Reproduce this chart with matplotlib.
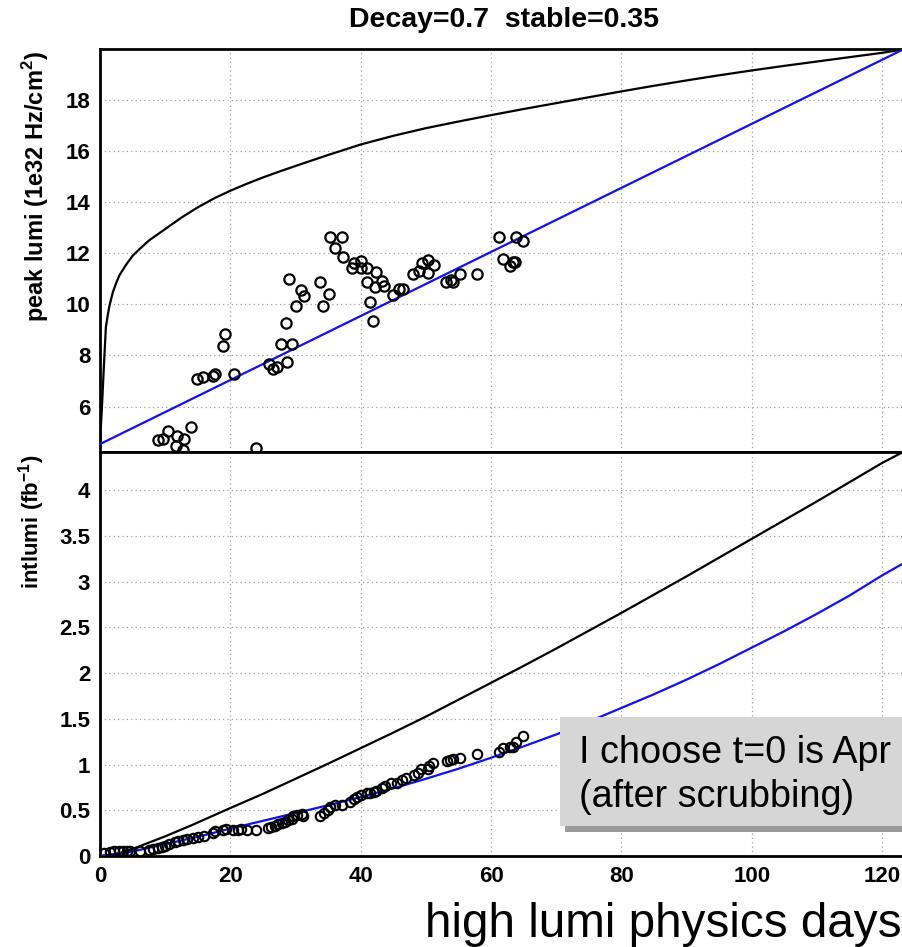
import matplotlib
matplotlib.use("Agg")
import matplotlib.pyplot as plt
from matplotlib.patches import Rectangle

plt.rcParams['font.family'] = ['Liberation Sans', 'DejaVu Sans']
plt.rcParams['mathtext.fontset'] = 'custom'
plt.rcParams['mathtext.bf'] = 'Liberation Sans:bold'
plt.rcParams['mathtext.rm'] = 'Liberation Sans:bold'

# top panel: peak lumi
peak_days = [8.95, 9.7, 10.5, 11.8, 11.7, 12.9, 12.7, 13.9, 24.0,
             14.9, 15.85, 17.3, 17.6, 18.8, 19.2, 20.6,
             25.9, 26.6, 27.1, 28.7, 27.8, 29.4, 28.5, 29.0, 30.0, 30.9, 31.3,
             33.8, 34.2, 35.1, 35.3, 36.0, 37.2, 37.3, 38.7, 39.0, 40.0, 40.1,
             40.9, 41.0, 41.5, 41.9, 42.2, 42.3, 43.2, 43.6, 44.9, 45.9, 46.5,
             48.0, 48.9, 49.4, 50.4, 50.4, 51.2, 53.1, 53.9, 54.2, 55.2, 57.8,
             61.2, 61.8, 62.9, 63.3, 63.6, 63.9, 64.9]
peak_lumi = [4.68, 4.72, 5.06, 4.85, 4.46, 4.72, 4.28, 5.21, 4.36,
             7.06, 7.17, 7.21, 7.28, 8.38, 8.85, 7.29,
             7.66, 7.46, 7.54, 7.76, 8.46, 8.46, 9.29, 11.0, 9.94, 10.57, 10.34,
             10.89, 9.94, 10.42, 12.64, 12.21, 12.62, 11.87, 11.42, 11.63, 11.42, 11.71,
             11.43, 10.88, 10.10, 9.33, 10.69, 11.28, 10.90, 10.72, 10.37, 10.61, 10.60,
             11.19, 11.30, 11.61, 11.74, 11.23, 11.54, 10.89, 10.96, 10.89, 11.19, 11.19,
             12.63, 11.78, 11.52, 11.67, 11.67, 12.63, 12.49]

model_days = [0, 0.3, 0.6, 0.9, 1.2, 1.5, 2, 2.5, 3, 4, 5, 6, 7.5, 10, 12.5, 15,
              17.5, 20, 22.5, 25, 27.5, 30, 35, 40, 45, 50, 55, 60, 65, 70, 75,
              80, 85, 90, 95, 100, 105, 110, 115, 120, 123.2]
model_peak = [4.53, 6.0, 7.6, 9.1, 9.6, 10.0, 10.5, 10.85, 11.15, 11.55, 11.9,
              12.15, 12.5, 12.95, 13.4, 13.8, 14.15, 14.45, 14.72, 14.97, 15.2,
              15.42, 15.85, 16.26, 16.6, 16.9, 17.16, 17.41, 17.65, 17.88,
              18.11, 18.34, 18.56, 18.77, 18.97, 19.16, 19.34, 19.51, 19.68,
              19.85, 19.98]
ramp_days = [0, 123.2]
ramp_peak = [4.53, 19.98]

# bottom panel: integrated lumi
int_days = [0.6, 1.5, 2.2, 2.9, 3.5, 4.1, 4.6, 6.1, 7.5, 8.2, 8.9, 9.5, 10.0,
            10.6, 11.5, 12.0, 12.8, 13.4, 14.2, 15.1, 15.9, 17.3, 17.6, 18.9,
            19.3, 20.4, 21.2, 21.7, 22.5, 24.0, 25.8, 26.3, 26.8, 27.3, 27.9,
            28.4, 28.9, 29.4, 29.6, 30.2, 31.0, 31.2, 33.7, 34.3, 35.0, 35.3,
            36.0, 37.1, 38.3, 38.9, 39.4, 40.1, 40.9, 41.4, 42.0, 42.4, 43.2,
            43.7, 44.7, 45.5, 46.3, 47.0, 48.1, 48.8, 49.3, 50.4, 50.5, 51.1,
            53.2, 53.7, 54.2, 55.2, 57.9, 61.2, 61.9, 62.9, 63.4, 63.9, 64.9]
int_lumi = [0.036, 0.045, 0.05, 0.05, 0.05, 0.05, 0.05, 0.06, 0.068, 0.075,
            0.085, 0.10, 0.11, 0.13, 0.155, 0.165, 0.175, 0.185, 0.195, 0.21,
            0.222, 0.248, 0.277, 0.285, 0.30, 0.285, 0.285, 0.292, 0.28, 0.285,
            0.303, 0.321, 0.328, 0.35, 0.365, 0.376, 0.394, 0.41, 0.438, 0.449,
            0.46, 0.438, 0.438, 0.467, 0.50, 0.54, 0.558, 0.558, 0.595, 0.62,
            0.65, 0.668, 0.686, 0.686, 0.704, 0.715, 0.741, 0.766, 0.796, 0.803,
            0.832, 0.851, 0.887, 0.912, 0.95, 0.95, 0.98, 1.02, 1.04, 1.05,
            1.06, 1.07, 1.12, 1.14, 1.18, 1.19, 1.19, 1.25, 1.31]

model_int_days = [0, 2, 4, 6, 8, 10, 14, 20, 25, 30, 35, 40, 45, 50, 55, 60, 65,
                  70, 75, 80, 85, 90, 95, 100, 105, 110, 115, 120, 123.2]
model_int = [0, 0.015, 0.05, 0.105, 0.16, 0.215, 0.335, 0.525, 0.68, 0.845, 1.01,
             1.18, 1.35, 1.525, 1.71, 1.895, 2.08, 2.27, 2.465, 2.66, 2.86, 3.06,
             3.265, 3.47, 3.675, 3.88, 4.09, 4.30, 4.42]
ramp_int_days = [0, 5, 10, 15, 20, 25, 30, 35, 40, 45, 50, 55, 60, 65, 70, 75,
                 80, 85, 90, 95, 100, 105, 110, 115, 120, 123.2]
ramp_int = [0, 0.05, 0.13, 0.21, 0.30, 0.385, 0.47, 0.555, 0.645, 0.74, 0.845,
            0.955, 1.075, 1.20, 1.33, 1.47, 1.62, 1.77, 1.93, 2.10, 2.28, 2.46,
            2.65, 2.85, 3.07, 3.20]

W, H = 903, 947
fig = plt.figure(figsize=(W / 100, H / 100), dpi=100)

left = 100 / W
width = 1.0 - left
ax1 = fig.add_axes([left, 1 - 452 / H, width, (452 - 49.5) / H])
ax2 = fig.add_axes([left, 1 - 856 / H, width, (856 - 452) / H])

tick_font = dict(family='Liberation Sans', weight='bold', size=16)

for ax in (ax1, ax2):
    ax.set_xlim(0, 123.2)
    ax.set_xticks([0, 20, 40, 60, 80, 100, 120])
    ax.grid(True, color='#a0a0a0', linestyle=(0, (1, 2.5)), linewidth=0.9)
    ax.set_axisbelow(True)
    for s in ax.spines.values():
        s.set_linewidth(2.0)
    ax.tick_params(length=0, pad=7)

# top panel
ax1.plot(model_days, model_peak, color='black', lw=1.6, zorder=3)
ax1.plot(ramp_days, ramp_peak, color='#1010ff', lw=1.6, zorder=3)
ax1.plot(peak_days, peak_lumi, 'o', mfc='none', mec='black', ms=7.4, mew=1.6,
         zorder=4)
ax1.set_ylim(4.22, 19.98)
ax1.set_yticks([6, 8, 10, 12, 14, 16, 18])
ax1.set_yticklabels(['6', '8', '10', '12', '14', '16', '18'], fontdict=tick_font)
ax1.tick_params(labelbottom=False)

# bottom panel
ax2.plot(model_int_days, model_int, color='black', lw=1.6, zorder=3)
ax2.plot(ramp_int_days, ramp_int, color='#1010ff', lw=1.6, zorder=3)
ax2.plot(int_days, int_lumi, 'o', mfc='none', mec='black', ms=6.8, mew=1.5,
         zorder=4)
ax2.set_ylim(0, 4.42)
ax2.set_yticks([0, 0.5, 1, 1.5, 2, 2.5, 3, 3.5, 4])
ax2.set_yticklabels(['0', '0.5', '1', '1.5', '2', '2.5', '3', '3.5', '4'],
                    fontdict=tick_font)
ax2.set_xticklabels(['0', '20', '40', '60', '80', '100', '120'], fontdict=tick_font)

# labels
fig.text(504 / W, 1 - 20 / H, 'Decay=0.7  stable=0.35', ha='center', va='center',
         fontsize=20.5, fontweight='bold')
fig.text(36 / W, 1 - 186 / H, 'peak lumi (1e32 Hz/cm$^{2}$)', rotation=90,
         ha='center', va='center', fontsize=17, fontweight='bold')
fig.text(32 / W, 1 - 522 / H, 'intlumi (fb$^{-1}$)', rotation=90,
         ha='center', va='center', fontsize=16, fontweight='bold')

# annotation box with shadow
fig.patches.append(Rectangle((565 / W, 1 - 832 / H), 400 / W, 109 / H,
                             transform=fig.transFigure, facecolor='#9a9a9a',
                             edgecolor='none', zorder=5))
fig.patches.append(Rectangle((560 / W, 1 - 826 / H), 400 / W, 109 / H,
                             transform=fig.transFigure, facecolor='#d6d6d6',
                             edgecolor='none', zorder=6))
fig.text(579 / W, 1 - 763 / H, 'I choose t=0 is Apr', ha='left', va='baseline',
         fontsize=27.2, zorder=7)
fig.text(579 / W, 1 - 807 / H, '(after scrubbing)', ha='left', va='baseline',
         fontsize=27.2, zorder=7)

fig.text(0.999, 1 - 937 / H, 'high lumi physics days', ha='right', va='baseline',
         fontsize=34.3)

fig.savefig('out.png', dpi=100)
